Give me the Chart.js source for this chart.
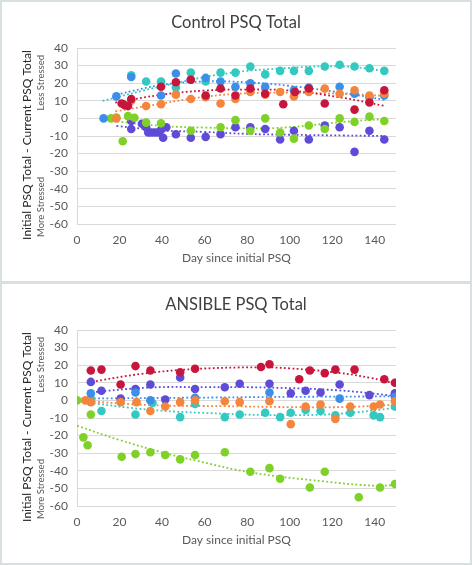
<!DOCTYPE html>
<html>
<head>
<meta charset="utf-8">
<script src="https://cdn.jsdelivr.net/npm/chart.js@4.4.0/dist/chart.umd.min.js"></script>
<style>
  body { margin: 0; background: #fff; }
  #wrap { position: relative; width: 472px; height: 565px; }
  canvas { position: absolute; left: 0; }
</style>
</head>
<body>
<div id="wrap">
  <canvas id="chartControl" width="472" height="283" style="top:0"></canvas>
  <canvas id="chartAnsible" width="472" height="283" style="top:282px"></canvas>
</div>
<script>
const _ = (id) => document.getElementById(id)

// x ticks and series names
const dayTicks = [0, 20, 40, 60, 80, 100, 120, 140]
const stressTicks = [40, 30, 20, 10, 0, -10, -20, -30, -40, -50, -60]

// Control group: [day, initial - current]
const ctrlRed = [[21,8.5],[22.5,7.5],[24,7],[25.5,11],[39.5,18],[46.5,20.5],[53.5,22],[60.5,13],[67.5,17],[74.5,13],[81.5,17],[88.5,14],[97,8],[102.5,15],[109,17],[116.5,8.5],[130.5,5],[137.5,9],[144.5,16]]
const ctrlOrange = [[18.5,0],[25.5,10],[32.5,7],[39.5,8],[46.5,13.5],[53.5,11],[60.5,12],[67.5,8.5],[74.5,11],[81.5,15],[88.5,13.5],[95.5,15],[102,12.5],[109,15],[116.5,17],[123.5,14],[130.5,16],[137.5,13],[144.5,14]]
const ctrlBlue = [[12.5,0],[18.5,12.5],[25.5,23.5],[39.5,13],[46.5,25.5],[53.5,22],[60.5,23],[67.5,21],[74.5,18],[81.5,20],[88.5,18],[102,16],[109,17.5],[123.5,18],[130.5,14],[137.5,12],[144.5,13]]
const ctrlCyan = [[25.5,24.5],[32.5,21],[39.5,21],[46.5,17.5],[53.5,26],[60.5,21],[67.5,26],[74.5,26],[81.5,29.5],[88.5,25],[95.5,27],[102,27],[109,27],[116.5,29.5],[123.5,30.5],[130.5,29.5],[137.5,28.5],[144.5,27]]
const ctrlGreen = [[16,0],[18.5,0.5],[21.5,-13],[24,1.3],[27,0.4],[32.5,-2.4],[39.5,-2.8],[53.5,-7],[67.5,-5],[74.5,-1],[81.5,-7],[88.5,0],[95.5,-8],[102,-11.5],[109,-4],[116.5,-6],[123.5,0],[130.5,-2],[137.5,1],[144.5,-1.5]]
const ctrlPurple = [[25.5,-1.5],[25.5,-6],[30.5,-3],[32.5,-5],[33.5,-8],[35,-8],[36.5,-8],[38,-8],[39.5,-6.5],[42,-5],[40.5,-11],[46.5,-9],[53.5,-11],[60.5,-10.5],[67.5,-9],[74.5,-5],[81.5,-5],[88.5,-6],[95.5,-12],[102,-7],[109,-12],[116.5,-4],[123.5,-5],[130.5,-19],[137.5,-7],[144.5,-12]]

// Control group trendlines
const ctrlRedTrend = [[18,9],[40,13.5],[60,15.8],[80,16.4],[100,15.8],[125,11.7],[145,7]]
const ctrlOrangeTrend = [[18,4],[40,8.5],[60,12.3],[80,14.3],[100,14.6],[125,14],[145,12.8]]
const ctrlBlueTrend = [[18.5,13.5],[40,19],[60,21],[80,20.5],[100,18.5],[125,14.5],[145,10.5]]
const ctrlCyanTrend = [[12,10],[40,18.3],[70,25.5],[100,28.7],[125,29.5],[145,27]]
const ctrlGreenTrend = [[17,-1.5],[40,-4.3],[60,-5.2],[80,-5.7],[100,-5],[125,-2],[145,-0.3]]
const ctrlPurpleTrend = [[18.5,-4.3],[40,-6.8],[60,-7.7],[80,-8.8],[100,-9.3],[125,-9.7],[145,-10]]

// ANSIBLE group
const ansRed = [[6.5,17],[11.5,17.5],[20.5,9],[27.5,19.5],[34.5,17],[48.5,16],[55.5,18],[86.5,19],[90.5,20.5],[104.5,12],[109.5,17],[116.5,15.5],[121.5,17.5],[130.5,17.5],[144.5,12],[149.5,10]]
const ansOrange = [[4,0],[6.5,-1],[20.5,-1],[28,-1],[34.5,-6],[41.5,-3.5],[48.5,-1],[55.5,0],[69.5,-0.5],[76.5,-1],[90.5,-0.5],[100.5,-13.5],[107.5,-3.5],[114.5,-2.3],[121.5,-10.5],[128.5,-3.5],[139.5,-3.5],[142.5,-2.3],[149.5,-0.5]]
const ansBlue = [[6.5,4],[27.5,4.5],[34.5,0],[55.5,1.5],[90.5,4.5],[123.5,1],[149.5,2]]
const ansCyan = [[6.5,1],[11.5,-6],[27.5,-8],[35.5,-1.5],[48.5,-9.5],[55.5,-2],[69.5,-9.5],[76.5,-8],[88.5,-7],[95.5,-9.5],[100.5,-7],[107.5,-5.5],[114.5,-6],[121.5,-8.5],[128.5,-7],[139.5,-8.5],[142.5,-9.5],[149.5,-3.5]]
const ansGreen = [[0,0],[3,-21],[5,-25.5],[6.5,-8],[21,-32],[27.5,-30.5],[34.5,-29.5],[41.5,-31],[48.5,-33.5],[55.5,-31],[69.5,-29.5],[81.5,-40.5],[90.5,-38.5],[95.5,-44.5],[109.5,-49.5],[116.5,-40.5],[132.5,-55],[142.5,-49.5],[149.5,-47.5]]
const ansPurple = [[6.5,10.5],[11.5,5.5],[20.5,1],[27.5,6.5],[34.5,9],[41.5,0.5],[48.5,13],[55.5,6.5],[69.5,7.5],[76.5,9.5],[90.5,9.5],[100.5,4],[107.5,5.5],[114.5,4.5],[123.5,9],[137.5,3],[149.5,4]]

const ansRedTrend = [[5,10.2],[30,15],[55,17.8],[85,18.8],[100,18.2],[123,15.7],[138,12.8],[150,9.5]]
const ansOrangeTrend = [[0,0],[35,-2.7],[70,-3.3],[100,-3.8],[125,-3.8],[150,-2.5]]
const ansBlueTrend = [[0,1],[50,1.5],[100,2],[150,2.3]]
const ansCyanTrend = [[0,-0.5],[35,-5.4],[70,-7.6],[95,-8.4],[123,-7.6],[150,-4.2]]
const ansGreenTrend = [[0,-14.4],[20,-22.5],[40,-29.5],[57,-34.5],[82,-41],[116,-46],[140,-48.5],[150,-48]]
const ansPurpleTrend = [[5,4.4],[34,7.3],[62,7.5],[90,7.3],[123,5.7],[150,2.5]]

const colors = {
  red: '#c8153c',
  orange: '#f5843c',
  blue: '#3b8fe8',
  cyan: '#33c9c0',
  green: '#7fd127',
  purple: '#5e4bd8',
}
const FONT = 'Lato'

const pts = (arr) => arr.map(([x, y]) => ({ x, y }))

function scatterSet(data, color) {
  return {
    type: 'scatter',
    data: pts(data),
    backgroundColor: color,
    borderColor: color,
    borderWidth: 0,
    pointRadius: 4.3,
  }
}

function trendSet(data, color) {
  return {
    type: 'line',
    data: pts(data),
    borderColor: color,
    borderWidth: 1.8,
    borderDash: [1.8, 2.4],
    pointRadius: 0,
    tension: 0.4,
    fill: false,
  }
}

const decor = {
  id: 'decor',
  beforeDraw(chart) {
    const { ctx, width, height } = chart
    ctx.save()
    ctx.fillStyle = '#fff'
    ctx.fillRect(0, 0, width, height)
    ctx.strokeStyle = '#d9e0e0'
    ctx.lineWidth = 2
    ctx.strokeRect(1, 1, width - 2, height - 2)
    ctx.restore()
  },
  afterDraw(chart, args, opts) {
    const { ctx, chartArea } = chart
    const midX = (chartArea.left + chartArea.right) / 2
    ctx.save()
    ctx.fillStyle = '#404040'
    ctx.textAlign = 'center'
    ctx.textBaseline = 'middle'
    ctx.font = `16.5px ${FONT}`
    ctx.fillText(opts.title, 236, 23)
    ctx.fillStyle = '#595959'
    ctx.font = `12px ${FONT}`
    ctx.fillText('Day since initial PSQ', midX, 258)

    ctx.translate(27, 145)
    ctx.rotate(-Math.PI / 2)
    ctx.fillStyle = '#262626'
    ctx.font = `12px ${FONT}`
    ctx.fillText('Initial PSQ Total - Current PSQ Total', 0, 0)
    ctx.fillStyle = '#595959'
    ctx.font = `9.5px ${FONT}`
    ctx.textAlign = 'right'
    ctx.fillText('Less Stressed', 145 - 55, 14)
    ctx.textAlign = 'left'
    ctx.fillText('More Stressed', 145 - 237, 14)
    ctx.restore()
  },
}

function makeChart(el, title, series, trends) {
  const names = Object.keys(colors)
  const datasets = [
    ...series.map((s, i) => scatterSet(s, colors[names[i]])),
    ...trends.map((t, i) => trendSet(t, colors[names[i]])),
  ]
  return new Chart(el, {
    type: 'scatter',
    data: { datasets },
    plugins: [decor],
    options: {
      responsive: false,
      animation: false,
      layout: { padding: { top: 48, right: 76, left: 0, bottom: 0 } },
      plugins: {
        legend: { display: false },
        tooltip: { enabled: false },
        decor: { title },
      },
      scales: {
        x: {
          type: 'linear',
          min: 0,
          max: 150,
          afterFit: (s) => { s.height = 283 - 224 },
          afterBuildTicks: (s) => { s.ticks = dayTicks.map((v) => ({ value: v })) },
          grid: { display: false, drawTicks: false },
          border: { display: false },
          ticks: { color: '#595959', font: { family: FONT, size: 12 }, padding: 9 },
        },
        y: {
          min: -60,
          max: 40,
          afterFit: (s) => { s.width = 77 },
          afterBuildTicks: (s) => { s.ticks = stressTicks.map((v) => ({ value: v })) },
          grid: { color: '#d9d9d9', drawTicks: false },
          border: { display: true, color: '#d9d9d9' },
          ticks: { color: '#595959', font: { family: FONT, size: 12 }, padding: 9 },
        },
      },
    },
  })
}

makeChart(
  _('chartControl'),
  'Control PSQ Total',
  [ctrlRed, ctrlOrange, ctrlBlue, ctrlCyan, ctrlGreen, ctrlPurple],
  [ctrlRedTrend, ctrlOrangeTrend, ctrlBlueTrend, ctrlCyanTrend, ctrlGreenTrend, ctrlPurpleTrend]
)

makeChart(
  _('chartAnsible'),
  'ANSIBLE PSQ Total',
  [ansRed, ansOrange, ansBlue, ansCyan, ansGreen, ansPurple],
  [ansRedTrend, ansOrangeTrend, ansBlueTrend, ansCyanTrend, ansGreenTrend, ansPurpleTrend]
)
</script>
</body>
</html>
